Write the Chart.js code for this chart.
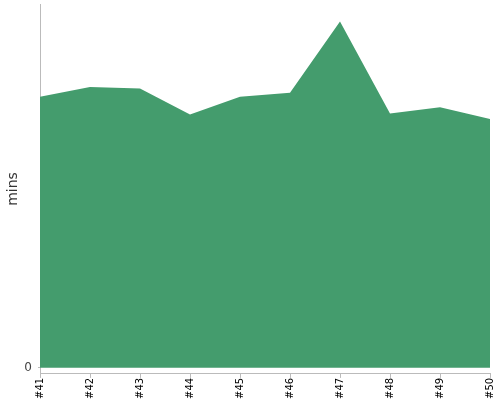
<!DOCTYPE html>
<html>
<head>
<meta charset="utf-8">
<script src="https://cdn.jsdelivr.net/npm/chart.js@4"></script>
<style>
  html, body { margin: 0; padding: 0; background: #fff; }
  #wrap { width: 500px; height: 400px; }
</style>
</head>
<body>
<div id="wrap"><canvas id="chart"></canvas></div>
<script>
// build numbers and their durations (mins)
const builds = ['#41', '#42', '#43', '#44', '#45', '#46', '#47', '#48', '#49', '#50'];
const durations = [74.5, 77.2, 76.8, 69.6, 74.5, 75.6, 95.2, 69.9, 71.6, 68.4];
const yTicks = [0];

const ctx = document.getElementById('chart');

new Chart(ctx, {
    type: 'line',
    data: {
        labels: builds,
        datasets: [{
            label: 'mins',
            data: durations,
            fill: 'origin',
            backgroundColor: '#449c6d',
            borderColor: '#449c6d',
            borderWidth: 0,
            pointRadius: 0,
            tension: 0
        }]
    },
    options: {
        responsive: true,
        maintainAspectRatio: false,
        animation: false,
        layout: { padding: { top: 4, right: 10, left: 5, bottom: 1 } },
        plugins: {
            legend: { display: false },
            tooltip: { enabled: false }
        },
        scales: {
            x: {
                offset: false,
                afterFit: function(axis) {
                    // rotated end labels may hang over the edges
                    axis.paddingLeft = 0;
                    axis.paddingRight = 0;
                },
                grid: {
                    display: true,
                    drawOnChartArea: false,
                    tickLength: 4,
                    color: '#bbb'
                },
                border: { color: '#bbb' },
                ticks: {
                    color: '#000',
                    font: { family: 'DejaVu Sans', size: 10 },
                    maxRotation: 90,
                    minRotation: 90,
                    autoSkip: false,
                    padding: 0
                }
            },
            y: {
                min: -1.7,
                max: 100,
                afterBuildTicks: function(axis) {
                    axis.ticks = yTicks.map(v => ({ value: v }));
                },
                afterFit: function(axis) {
                    // only the 0 tick is shown, so no room is needed above it
                    axis.paddingTop = 0;
                    axis.width = 35;
                },
                grid: {
                    display: true,
                    drawOnChartArea: false,
                    tickLength: 2,
                    color: '#bbb'
                },
                border: { color: '#bbb' },
                ticks: {
                    color: '#444',
                    font: { family: 'DejaVu Sans', size: 12 },
                    padding: 6
                },
                title: {
                    display: true,
                    text: 'mins',
                    color: '#333',
                    font: { family: 'DejaVu Sans', size: 14 },
                    padding: { top: 0, bottom: 3 }
                }
            }
        }
    }
});
</script>
</body>
</html>
